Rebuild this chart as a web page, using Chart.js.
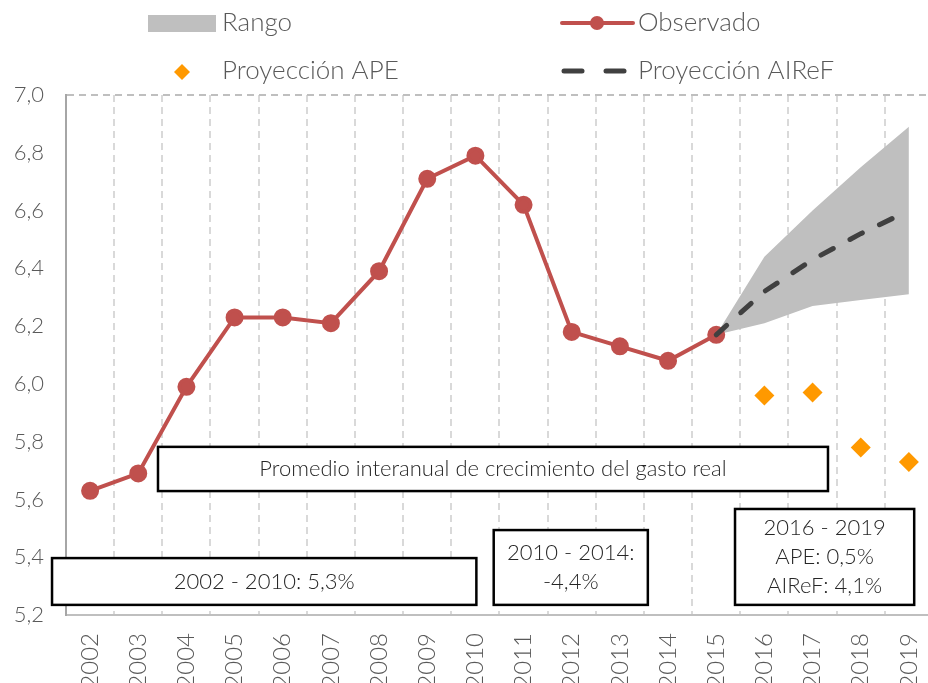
<!DOCTYPE html>
<html>
<head>
<meta charset="utf-8">
<script src="https://cdn.jsdelivr.net/npm/chart.js@4.4.1/dist/chart.umd.min.js"></script>
<style>
  html, body { margin: 0; padding: 0; background: #fff; overflow: hidden; }
  #wrap { position: absolute; left: 0; top: 0; width: 956px; height: 683px; }
</style>
</head>
<body>
<div id="wrap"><canvas id="gastoChart"></canvas></div>
<script>
// categorias y series
var years = ['2002', '2003', '2004', '2005', '2006', '2007', '2008', '2009', '2010',
             '2011', '2012', '2013', '2014', '2015', '2016', '2017', '2018', '2019'];
var observado = [5.63, 5.69, 5.99, 6.23, 6.23, 6.21, 6.39, 6.71, 6.79,
                 6.62, 6.18, 6.13, 6.08, 6.17, null, null, null, null];
var proyAIReF = [null, null, null, null, null, null, null, null, null,
                 null, null, null, null, 6.17, 6.32, 6.43, 6.52, 6.60];
var rangoMax = [null, null, null, null, null, null, null, null, null,
                null, null, null, null, 6.17, 6.44, 6.60, 6.75, 6.89];
var rangoMin = [null, null, null, null, null, null, null, null, null,
                null, null, null, null, 6.17, 6.21, 6.27, 6.29, 6.31];
var proyAPE = [null, null, null, null, null, null, null, null, null,
               null, null, null, null, null, 5.96, 5.97, 5.78, 5.73];

var yTicks = [5.2, 5.4, 5.6, 5.8, 6.0, 6.2, 6.4, 6.6, 6.8, 7.0];

// cuadros de texto (posicion en unidades de los ejes: indice de categoria / valor)
var boxes = [
    { lines: ['Promedio interanual de crecimiento del gasto real'], x0: 1.41, x1: 15.32, y0: 5.782, y1: 5.629 },
    { lines: ['2002 - 2010: 5,3%'], x0: -0.79, x1: 8.02, y0: 5.397, y1: 5.235 },
    { lines: ['2010 - 2014:', '-4,4%'], x0: 8.38, x1: 11.58, y0: 5.494, y1: 5.235 },
    { lines: ['2016 - 2019', 'APE: 0,5%', 'AIReF: 4,1%'], x0: 13.39, x1: 17.11, y0: 5.567, y1: 5.235 }
];

var FONT = 'Lato, "Open Sans", sans-serif';
Chart.defaults.font.family = FONT;
Chart.defaults.font.weight = 300;
Chart.defaults.color = '#595959';

var boxPlugin = {
    id: 'boxes',
    afterDatasetsDraw: function(chart) {
        var ctx = chart.ctx;
        var xs = chart.scales.x, ys = chart.scales.y;
        ctx.save();
        boxes.forEach(function(b) {
            var l = xs.getPixelForValue(b.x0), r = xs.getPixelForValue(b.x1);
            var t = ys.getPixelForValue(b.y0), bt = ys.getPixelForValue(b.y1);
            ctx.fillStyle = '#fff';
            ctx.fillRect(l, t, r - l, bt - t);
            ctx.strokeStyle = '#000';
            ctx.lineWidth = 2.5;
            ctx.strokeRect(l, t, r - l, bt - t);
            ctx.fillStyle = '#262626';
            ctx.font = '300 22px ' + FONT;
            ctx.textAlign = 'center';
            ctx.textBaseline = 'middle';
            var lh = 29;
            var cy = (t + bt) / 2 - (b.lines.length - 1) * lh / 2;
            b.lines.forEach(function(s, i) {
                ctx.fillText(s, (l + r) / 2, cy + i * lh);
            });
        });
        ctx.restore();
    }
};

var legendPlugin = {
    id: 'myLegend',
    afterDraw: function(chart) {
        var ctx = chart.ctx;
        var ds = chart.data.datasets;
        ctx.save();
        ctx.font = '300 26px ' + FONT;
        ctx.fillStyle = '#595959';
        ctx.textBaseline = 'middle';
        ctx.textAlign = 'left';
        // Rango
        ctx.fillStyle = ds[0].backgroundColor;
        ctx.fillRect(148, 15, 68, 17);
        ctx.fillStyle = '#595959';
        ctx.fillText(ds[0].label, 222, 23);
        // Observado
        ctx.strokeStyle = ds[2].borderColor;
        ctx.lineWidth = 4;
        ctx.lineCap = 'round';
        ctx.beginPath(); ctx.moveTo(562, 23); ctx.lineTo(633, 23); ctx.stroke();
        ctx.fillStyle = ds[2].borderColor;
        ctx.beginPath(); ctx.arc(597, 23, 7, 0, Math.PI * 2); ctx.fill();
        ctx.fillStyle = '#595959';
        ctx.fillText(ds[2].label, 638, 23);
        // Proyeccion APE
        ctx.fillStyle = ds[4].backgroundColor;
        ctx.beginPath();
        ctx.moveTo(182, 64); ctx.lineTo(190, 72); ctx.lineTo(182, 80); ctx.lineTo(174, 72);
        ctx.closePath(); ctx.fill();
        ctx.fillStyle = '#595959';
        ctx.fillText(ds[4].label, 222, 71);
        // Proyeccion AIReF
        ctx.strokeStyle = ds[3].borderColor;
        ctx.lineWidth = 5;
        ctx.beginPath(); ctx.moveTo(564, 71); ctx.lineTo(582, 71); ctx.stroke();
        ctx.beginPath(); ctx.moveTo(606, 71); ctx.lineTo(624, 71); ctx.stroke();
        ctx.fillText(ds[3].label, 638, 71);
        ctx.restore();
    }
};

var ctxG = document.getElementById('gastoChart').getContext('2d');
var gastoChart = new Chart(ctxG, {
    type: 'line',
    data: {
        labels: years,
        datasets: [{
            label: 'Rango',
            data: rangoMax,
            borderWidth: 0,
            pointRadius: 0,
            backgroundColor: '#BFBFBF',
            fill: '+1',
            order: 5
        }, {
            label: 'rango min',
            data: rangoMin,
            borderWidth: 0,
            pointRadius: 0,
            fill: false,
            order: 6
        }, {
            label: 'Observado',
            data: observado,
            borderColor: '#C0504D',
            backgroundColor: '#C0504D',
            borderWidth: 4,
            pointRadius: 7,
            pointHoverRadius: 7,
            fill: false,
            order: 1
        }, {
            label: 'Proyección AIReF',
            data: proyAIReF,
            borderColor: '#404040',
            borderWidth: 5,
            borderDash: [14, 19],
            borderCapStyle: 'round',
            pointRadius: 0,
            fill: false,
            order: 0
        }, {
            label: 'Proyección APE',
            data: proyAPE,
            showLine: false,
            pointStyle: 'rectRot',
            pointRadius: 10,
            pointHoverRadius: 10,
            backgroundColor: '#FF9900',
            borderColor: '#FF9900',
            borderWidth: 0,
            order: 2
        }]
    },
    options: {
        responsive: true,
        maintainAspectRatio: false,
        animation: false,
        layout: { padding: { top: 95, left: 0, right: 0, bottom: 0 } },
        plugins: {
            legend: { display: false },
            tooltip: { enabled: false }
        },
        scales: {
            x: {
                offset: true,
                grid: {
                    offset: true,
                    drawTicks: false,
                    color: '#D9D9D9',
                    lineWidth: 2
                },
                border: { display: true, color: '#BFBFBF', width: 2, dash: [7, 5] },
                ticks: {
                    autoSkip: false,
                    minRotation: 90,
                    maxRotation: 90,
                    padding: 18,
                    color: '#595959',
                    font: { size: 24, weight: 300 }
                },
                afterFit: function(s) { s.height = 68; }
            },
            y: {
                min: 5.2,
                max: 7.0,
                afterBuildTicks: function(s) {
                    s.ticks = yTicks.map(function(v) { return { value: v }; });
                },
                grid: {
                    drawTicks: false,
                    lineWidth: 2,
                    color: function(c) {
                        if (c.tick && (c.tick.value === 7.0 || c.tick.value === 5.2)) return '#BFBFBF';
                        return 'rgba(0,0,0,0)';
                    }
                },
                border: { display: true, color: '#A6A6A6', width: 2, dash: [7, 5] },
                ticks: {
                    padding: 22,
                    color: '#595959',
                    font: { size: 22, weight: 300 },
                    callback: function(v) { return v.toFixed(1).replace('.', ','); }
                },
                afterFit: function(s) { s.width = 66; }
            }
        }
    },
    plugins: [boxPlugin, legendPlugin]
});
</script>
</body>
</html>
